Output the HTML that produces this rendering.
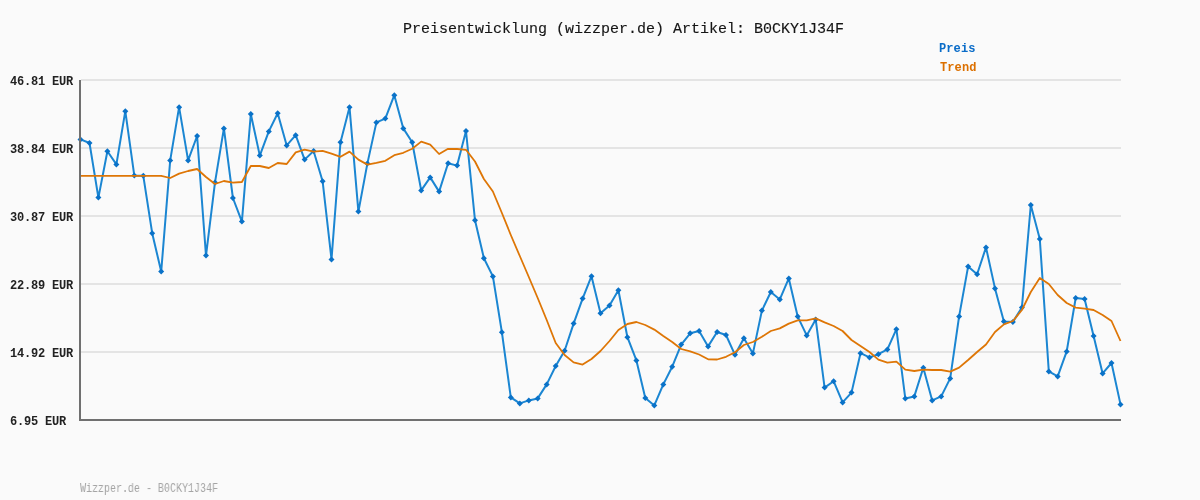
<!DOCTYPE html>
<html><head><meta charset="utf-8"><style>
html,body{margin:0;padding:0;}
body{width:1200px;height:500px;background:#fafafa;position:relative;overflow:hidden;font-family:"Liberation Mono",monospace;}
svg{position:absolute;left:0;top:0;}
.t{position:absolute;white-space:pre;line-height:14px;will-change:transform;}
.yl{position:absolute;left:10px;white-space:pre;font-size:12px;letter-spacing:-0.2px;font-weight:bold;color:#222;line-height:14px;will-change:transform;}
#title{left:403px;top:20px;font-size:15px;color:#151515;-webkit-text-stroke:0.15px #151515;line-height:20px;}
.lg{left:939px;font-size:12px;letter-spacing:0.1px;font-weight:bold;}
#foot{left:80px;top:482px;font-size:12px;color:#a4a4a4;transform:scaleX(0.8333);transform-origin:0 0;}
</style></head><body>
<svg width="1200" height="500" viewBox="0 0 1200 500">
<g stroke="#e4e4e4" stroke-width="2" fill="none"><line x1="81" y1="80" x2="1121" y2="80"/><line x1="81" y1="148" x2="1121" y2="148"/><line x1="81" y1="216" x2="1121" y2="216"/><line x1="81" y1="284" x2="1121" y2="284"/><line x1="81" y1="352" x2="1121" y2="352"/></g>
<polyline points="80.5,139.4 89.5,143.0 98.4,197.6 107.4,151.2 116.4,164.4 125.3,111.2 134.3,175.6 143.3,175.8 152.2,233.2 161.2,271.6 170.2,160.4 179.1,107.2 188.1,160.4 197.1,136.0 206.0,255.6 215.0,182.4 223.9,128.4 232.9,198.0 241.9,221.6 250.8,114.0 259.8,155.6 268.8,131.4 277.7,113.2 286.7,145.4 295.7,135.2 304.6,159.6 313.6,151.0 322.6,181.2 331.5,259.4 340.5,142.2 349.5,107.2 358.4,211.6 367.4,163.4 376.4,122.4 385.3,118.6 394.3,95.2 403.3,128.4 412.2,142.2 421.2,190.4 430.2,177.4 439.1,191.6 448.1,163.2 457.1,165.6 466.0,131.0 475.0,220.3 483.9,258.2 492.9,276.4 501.9,332.3 510.8,397.4 519.8,403.4 528.8,400.4 537.7,398.4 546.7,384.4 555.7,366.0 564.6,350.7 573.6,323.6 582.6,298.6 591.5,276.2 600.5,313.2 609.5,305.6 618.4,290.2 627.4,337.2 636.4,360.4 645.3,398.0 654.3,405.4 663.3,384.4 672.2,366.7 681.2,344.6 690.2,333.3 699.1,331.0 708.1,346.4 717.1,332.0 726.0,335.0 735.0,354.8 743.9,338.2 752.9,353.4 761.9,310.6 770.8,292.0 779.8,299.4 788.8,278.4 797.7,316.6 806.7,335.4 815.7,319.4 824.6,387.6 833.6,381.2 842.6,402.4 851.5,392.6 860.5,353.2 869.5,357.4 878.4,354.2 887.4,349.4 896.4,329.2 905.3,398.4 914.3,396.4 923.3,367.8 932.2,400.4 941.2,396.4 950.2,378.4 959.1,316.4 968.1,266.6 977.1,274.2 986.0,247.4 995.0,288.4 1003.9,321.4 1012.9,322.0 1021.9,307.4 1030.8,205.0 1039.8,239.0 1048.8,371.4 1057.7,376.4 1066.7,351.4 1075.7,298.0 1084.6,299.0 1093.6,336.0 1102.6,373.4 1111.5,363.0 1120.5,404.4" fill="none" stroke="#1b86d2" stroke-width="2" stroke-linejoin="round"/>
<g fill="#0a72c8"><path d="M80.5 136.4L83.5 139.4L80.5 142.4L77.5 139.4Z"/><path d="M89.5 140.0L92.5 143.0L89.5 146.0L86.5 143.0Z"/><path d="M98.4 194.6L101.4 197.6L98.4 200.6L95.4 197.6Z"/><path d="M107.4 148.2L110.4 151.2L107.4 154.2L104.4 151.2Z"/><path d="M116.4 161.4L119.4 164.4L116.4 167.4L113.4 164.4Z"/><path d="M125.3 108.2L128.3 111.2L125.3 114.2L122.3 111.2Z"/><path d="M134.3 172.6L137.3 175.6L134.3 178.6L131.3 175.6Z"/><path d="M143.3 172.8L146.3 175.8L143.3 178.8L140.3 175.8Z"/><path d="M152.2 230.2L155.2 233.2L152.2 236.2L149.2 233.2Z"/><path d="M161.2 268.6L164.2 271.6L161.2 274.6L158.2 271.6Z"/><path d="M170.2 157.4L173.2 160.4L170.2 163.4L167.2 160.4Z"/><path d="M179.1 104.2L182.1 107.2L179.1 110.2L176.1 107.2Z"/><path d="M188.1 157.4L191.1 160.4L188.1 163.4L185.1 160.4Z"/><path d="M197.1 133.0L200.1 136.0L197.1 139.0L194.1 136.0Z"/><path d="M206.0 252.6L209.0 255.6L206.0 258.6L203.0 255.6Z"/><path d="M215.0 179.4L218.0 182.4L215.0 185.4L212.0 182.4Z"/><path d="M223.9 125.4L226.9 128.4L223.9 131.4L220.9 128.4Z"/><path d="M232.9 195.0L235.9 198.0L232.9 201.0L229.9 198.0Z"/><path d="M241.9 218.6L244.9 221.6L241.9 224.6L238.9 221.6Z"/><path d="M250.8 111.0L253.8 114.0L250.8 117.0L247.8 114.0Z"/><path d="M259.8 152.6L262.8 155.6L259.8 158.6L256.8 155.6Z"/><path d="M268.8 128.4L271.8 131.4L268.8 134.4L265.8 131.4Z"/><path d="M277.7 110.2L280.7 113.2L277.7 116.2L274.7 113.2Z"/><path d="M286.7 142.4L289.7 145.4L286.7 148.4L283.7 145.4Z"/><path d="M295.7 132.2L298.7 135.2L295.7 138.2L292.7 135.2Z"/><path d="M304.6 156.6L307.6 159.6L304.6 162.6L301.6 159.6Z"/><path d="M313.6 148.0L316.6 151.0L313.6 154.0L310.6 151.0Z"/><path d="M322.6 178.2L325.6 181.2L322.6 184.2L319.6 181.2Z"/><path d="M331.5 256.4L334.5 259.4L331.5 262.4L328.5 259.4Z"/><path d="M340.5 139.2L343.5 142.2L340.5 145.2L337.5 142.2Z"/><path d="M349.5 104.2L352.5 107.2L349.5 110.2L346.5 107.2Z"/><path d="M358.4 208.6L361.4 211.6L358.4 214.6L355.4 211.6Z"/><path d="M367.4 160.4L370.4 163.4L367.4 166.4L364.4 163.4Z"/><path d="M376.4 119.4L379.4 122.4L376.4 125.4L373.4 122.4Z"/><path d="M385.3 115.6L388.3 118.6L385.3 121.6L382.3 118.6Z"/><path d="M394.3 92.2L397.3 95.2L394.3 98.2L391.3 95.2Z"/><path d="M403.3 125.4L406.3 128.4L403.3 131.4L400.3 128.4Z"/><path d="M412.2 139.2L415.2 142.2L412.2 145.2L409.2 142.2Z"/><path d="M421.2 187.4L424.2 190.4L421.2 193.4L418.2 190.4Z"/><path d="M430.2 174.4L433.2 177.4L430.2 180.4L427.2 177.4Z"/><path d="M439.1 188.6L442.1 191.6L439.1 194.6L436.1 191.6Z"/><path d="M448.1 160.2L451.1 163.2L448.1 166.2L445.1 163.2Z"/><path d="M457.1 162.6L460.1 165.6L457.1 168.6L454.1 165.6Z"/><path d="M466.0 128.0L469.0 131.0L466.0 134.0L463.0 131.0Z"/><path d="M475.0 217.3L478.0 220.3L475.0 223.3L472.0 220.3Z"/><path d="M483.9 255.2L486.9 258.2L483.9 261.2L480.9 258.2Z"/><path d="M492.9 273.4L495.9 276.4L492.9 279.4L489.9 276.4Z"/><path d="M501.9 329.3L504.9 332.3L501.9 335.3L498.9 332.3Z"/><path d="M510.8 394.4L513.8 397.4L510.8 400.4L507.8 397.4Z"/><path d="M519.8 400.4L522.8 403.4L519.8 406.4L516.8 403.4Z"/><path d="M528.8 397.4L531.8 400.4L528.8 403.4L525.8 400.4Z"/><path d="M537.7 395.4L540.7 398.4L537.7 401.4L534.7 398.4Z"/><path d="M546.7 381.4L549.7 384.4L546.7 387.4L543.7 384.4Z"/><path d="M555.7 363.0L558.7 366.0L555.7 369.0L552.7 366.0Z"/><path d="M564.6 347.7L567.6 350.7L564.6 353.7L561.6 350.7Z"/><path d="M573.6 320.6L576.6 323.6L573.6 326.6L570.6 323.6Z"/><path d="M582.6 295.6L585.6 298.6L582.6 301.6L579.6 298.6Z"/><path d="M591.5 273.2L594.5 276.2L591.5 279.2L588.5 276.2Z"/><path d="M600.5 310.2L603.5 313.2L600.5 316.2L597.5 313.2Z"/><path d="M609.5 302.6L612.5 305.6L609.5 308.6L606.5 305.6Z"/><path d="M618.4 287.2L621.4 290.2L618.4 293.2L615.4 290.2Z"/><path d="M627.4 334.2L630.4 337.2L627.4 340.2L624.4 337.2Z"/><path d="M636.4 357.4L639.4 360.4L636.4 363.4L633.4 360.4Z"/><path d="M645.3 395.0L648.3 398.0L645.3 401.0L642.3 398.0Z"/><path d="M654.3 402.4L657.3 405.4L654.3 408.4L651.3 405.4Z"/><path d="M663.3 381.4L666.3 384.4L663.3 387.4L660.3 384.4Z"/><path d="M672.2 363.7L675.2 366.7L672.2 369.7L669.2 366.7Z"/><path d="M681.2 341.6L684.2 344.6L681.2 347.6L678.2 344.6Z"/><path d="M690.2 330.3L693.2 333.3L690.2 336.3L687.2 333.3Z"/><path d="M699.1 328.0L702.1 331.0L699.1 334.0L696.1 331.0Z"/><path d="M708.1 343.4L711.1 346.4L708.1 349.4L705.1 346.4Z"/><path d="M717.1 329.0L720.1 332.0L717.1 335.0L714.1 332.0Z"/><path d="M726.0 332.0L729.0 335.0L726.0 338.0L723.0 335.0Z"/><path d="M735.0 351.8L738.0 354.8L735.0 357.8L732.0 354.8Z"/><path d="M743.9 335.2L746.9 338.2L743.9 341.2L740.9 338.2Z"/><path d="M752.9 350.4L755.9 353.4L752.9 356.4L749.9 353.4Z"/><path d="M761.9 307.6L764.9 310.6L761.9 313.6L758.9 310.6Z"/><path d="M770.8 289.0L773.8 292.0L770.8 295.0L767.8 292.0Z"/><path d="M779.8 296.4L782.8 299.4L779.8 302.4L776.8 299.4Z"/><path d="M788.8 275.4L791.8 278.4L788.8 281.4L785.8 278.4Z"/><path d="M797.7 313.6L800.7 316.6L797.7 319.6L794.7 316.6Z"/><path d="M806.7 332.4L809.7 335.4L806.7 338.4L803.7 335.4Z"/><path d="M815.7 316.4L818.7 319.4L815.7 322.4L812.7 319.4Z"/><path d="M824.6 384.6L827.6 387.6L824.6 390.6L821.6 387.6Z"/><path d="M833.6 378.2L836.6 381.2L833.6 384.2L830.6 381.2Z"/><path d="M842.6 399.4L845.6 402.4L842.6 405.4L839.6 402.4Z"/><path d="M851.5 389.6L854.5 392.6L851.5 395.6L848.5 392.6Z"/><path d="M860.5 350.2L863.5 353.2L860.5 356.2L857.5 353.2Z"/><path d="M869.5 354.4L872.5 357.4L869.5 360.4L866.5 357.4Z"/><path d="M878.4 351.2L881.4 354.2L878.4 357.2L875.4 354.2Z"/><path d="M887.4 346.4L890.4 349.4L887.4 352.4L884.4 349.4Z"/><path d="M896.4 326.2L899.4 329.2L896.4 332.2L893.4 329.2Z"/><path d="M905.3 395.4L908.3 398.4L905.3 401.4L902.3 398.4Z"/><path d="M914.3 393.4L917.3 396.4L914.3 399.4L911.3 396.4Z"/><path d="M923.3 364.8L926.3 367.8L923.3 370.8L920.3 367.8Z"/><path d="M932.2 397.4L935.2 400.4L932.2 403.4L929.2 400.4Z"/><path d="M941.2 393.4L944.2 396.4L941.2 399.4L938.2 396.4Z"/><path d="M950.2 375.4L953.2 378.4L950.2 381.4L947.2 378.4Z"/><path d="M959.1 313.4L962.1 316.4L959.1 319.4L956.1 316.4Z"/><path d="M968.1 263.6L971.1 266.6L968.1 269.6L965.1 266.6Z"/><path d="M977.1 271.2L980.1 274.2L977.1 277.2L974.1 274.2Z"/><path d="M986.0 244.4L989.0 247.4L986.0 250.4L983.0 247.4Z"/><path d="M995.0 285.4L998.0 288.4L995.0 291.4L992.0 288.4Z"/><path d="M1003.9 318.4L1006.9 321.4L1003.9 324.4L1000.9 321.4Z"/><path d="M1012.9 319.0L1015.9 322.0L1012.9 325.0L1009.9 322.0Z"/><path d="M1021.9 304.4L1024.9 307.4L1021.9 310.4L1018.9 307.4Z"/><path d="M1030.8 202.0L1033.8 205.0L1030.8 208.0L1027.8 205.0Z"/><path d="M1039.8 236.0L1042.8 239.0L1039.8 242.0L1036.8 239.0Z"/><path d="M1048.8 368.4L1051.8 371.4L1048.8 374.4L1045.8 371.4Z"/><path d="M1057.7 373.4L1060.7 376.4L1057.7 379.4L1054.7 376.4Z"/><path d="M1066.7 348.4L1069.7 351.4L1066.7 354.4L1063.7 351.4Z"/><path d="M1075.7 295.0L1078.7 298.0L1075.7 301.0L1072.7 298.0Z"/><path d="M1084.6 296.0L1087.6 299.0L1084.6 302.0L1081.6 299.0Z"/><path d="M1093.6 333.0L1096.6 336.0L1093.6 339.0L1090.6 336.0Z"/><path d="M1102.6 370.4L1105.6 373.4L1102.6 376.4L1099.6 373.4Z"/><path d="M1111.5 360.0L1114.5 363.0L1111.5 366.0L1108.5 363.0Z"/><path d="M1120.5 401.4L1123.5 404.4L1120.5 407.4L1117.5 404.4Z"/></g>
<polyline points="80.5,175.8 89.5,175.8 98.4,175.8 107.4,175.8 116.4,175.8 125.3,175.8 134.3,175.8 143.3,175.8 152.2,175.8 161.2,175.8 170.2,178.0 179.1,173.6 188.1,171.0 197.1,169.0 206.0,177.0 215.0,184.0 223.9,181.0 232.9,182.6 241.9,182.0 250.8,166.0 259.8,166.0 268.8,168.0 277.7,163.0 286.7,164.0 295.7,152.4 304.6,149.6 313.6,151.6 322.6,150.8 331.5,153.6 340.5,156.8 349.5,151.6 358.4,159.6 367.4,164.6 376.4,162.8 385.3,160.8 394.3,155.2 403.3,152.8 412.2,148.8 421.2,141.6 430.2,144.6 439.1,154.0 448.1,148.8 457.1,149.0 466.0,149.8 475.0,161.5 483.9,179.0 492.9,191.5 501.9,213.0 510.8,235.0 519.8,256.0 528.8,277.0 537.7,298.0 546.7,320.0 555.7,343.0 564.6,355.0 573.6,362.4 582.6,364.6 591.5,359.0 600.5,351.0 609.5,341.0 618.4,330.0 627.4,324.0 636.4,322.0 645.3,325.0 654.3,329.6 663.3,336.0 672.2,342.0 681.2,349.0 690.2,351.3 699.1,354.5 708.1,359.3 717.1,359.5 726.0,356.8 735.0,352.2 743.9,345.0 752.9,342.0 761.9,336.8 770.8,331.0 779.8,328.4 788.8,323.6 797.7,320.4 806.7,320.4 815.7,318.4 824.6,322.4 833.6,326.0 842.6,331.0 851.5,340.0 860.5,346.0 869.5,352.0 878.4,359.6 887.4,362.6 896.4,361.6 905.3,369.6 914.3,371.0 923.3,369.6 932.2,370.0 941.2,370.0 950.2,371.6 959.1,367.6 968.1,360.0 977.1,352.0 986.0,344.5 995.0,332.0 1003.9,324.4 1012.9,321.0 1021.9,310.0 1030.8,292.0 1039.8,278.0 1048.8,284.0 1057.7,295.0 1066.7,303.0 1075.7,307.6 1084.6,308.6 1093.6,310.0 1102.6,315.0 1111.5,321.0 1120.5,341.0" fill="none" stroke="#de7606" stroke-width="1.8" stroke-linejoin="round"/>
<line x1="80" y1="80" x2="80" y2="421" stroke="#707070" stroke-width="2"/>
<line x1="79" y1="420" x2="1121" y2="420" stroke="#707070" stroke-width="2"/>
</svg>
<div class="t" id="title">Preisentwicklung (wizzper.de) Artikel: B0CKY1J34F</div>
<div class="t lg" style="top:42px;color:#0a6cc8">Preis</div>
<div class="t lg" style="top:61px;left:940px;color:#dc7000">Trend</div>
<div class="yl" style="top:75px">46.81 EUR</div><div class="yl" style="top:143px">38.84 EUR</div><div class="yl" style="top:211px">30.87 EUR</div><div class="yl" style="top:279px">22.89 EUR</div><div class="yl" style="top:347px">14.92 EUR</div><div class="yl" style="top:415px">6.95 EUR</div>
<div class="t" id="foot">Wizzper.de - B0CKY1J34F</div>
</body></html>
